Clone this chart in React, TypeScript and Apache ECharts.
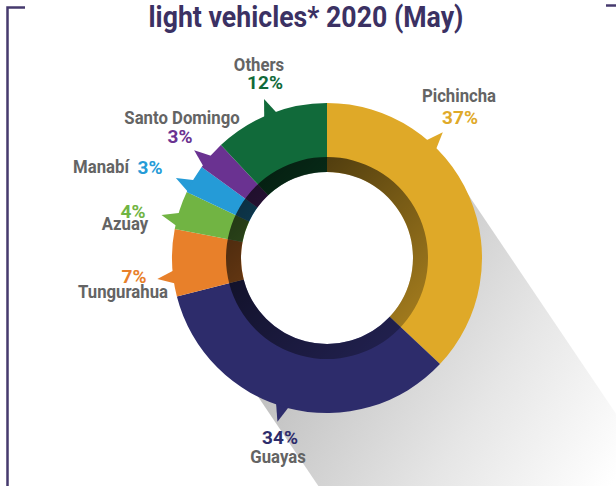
import React, { useEffect, useRef } from 'react';
import * as echarts from 'echarts';

// ---- data ----
const categories = ['Pichincha', 'Guayas', 'Tungurahua', 'Azuay', 'Manabí', 'Santo Domingo', 'Others'];
const shares = [37, 34, 7, 4, 3, 3, 12];
const sliceColors = ['#DFA928', '#2D2C6B', '#E8802A', '#71B443', '#259BD7', '#6A3291', '#116A3A'];
const titleText = 'light vehicles* 2020 (May)';

// ---- layout ----
const CX = 327;
const CY = 258;
const R_OUT = 155;
const R_MID = 101;
const R_IN = 86;
// where the bubble tail sits inside each slice (fraction of the slice span)
const tailFrac = [0.32, 0.52, 0.29, 0.26, 0.25, 0.28, 0.5];
// label anchors [nameX, nameY, pctX, pctY]
const labelPos = [
  [459, 96, 460, 117],
  [278, 457, 280, 437],
  [123, 292, 134, 276],
  [125, 224, 133, 211],
  [101, 167, 150, 167],
  [182, 118, 180, 136],
  [259, 65, 265, 82],
];

const NAME_COLOR = '#646464';
const FRAME_COLOR = '#463a6e';

function pt(angleDeg: number, r: number): number[] {
  const a = (angleDeg * Math.PI) / 180;
  return [CX + r * Math.sin(a), CY - r * Math.cos(a)];
}

export default function App() {
  const ref = useRef<HTMLDivElement>(null);

  useEffect(() => {
    if (!ref.current) return;
    const chart = echarts.init(ref.current, undefined, { renderer: 'svg' });
    const total = shares.reduce((a, b) => a + b, 0);

    const graphics: any[] = [];

    // long shadow
    const dir = [0.56, 0.83];
    const L = 420;
    const s1 = pt(64, R_OUT - 1);
    const s2 = pt(207, R_OUT - 1);
    graphics.push({
      type: 'polygon',
      z: 0,
      silent: true,
      shape: {
        points: [s1, s2, [s2[0] + dir[0] * L, s2[1] + dir[1] * L], [s1[0] + dir[0] * L, s1[1] + dir[1] * L]],
      },
      style: {
        fill: {
          type: 'linear',
          x: 330,
          y: 300,
          x2: 615,
          y2: 480,
          global: true,
          colorStops: [
            { offset: 0, color: '#c2c2c2' },
            { offset: 0.55, color: '#e6e6e6' },
            { offset: 1, color: '#ffffff' },
          ],
        },
      },
    });

    // bubble tails
    let cum = 0;
    const halfBase = (8 / R_OUT) * (180 / Math.PI);
    shares.forEach((v, i) => {
      const start = (cum / total) * 360;
      const span = (v / total) * 360;
      const theta = start + tailFrac[i] * span;
      cum += v;
      graphics.push({
        type: 'polygon',
        z: 1,
        silent: true,
        shape: { points: [pt(theta - halfBase, R_OUT - 4), pt(theta, R_OUT + 16), pt(theta + halfBase, R_OUT - 4)] },
        style: { fill: sliceColors[i] },
      });
    });

    // labels
    categories.forEach((name, i) => {
      const p = labelPos[i];
      graphics.push({
        type: 'text',
        z: 5,
        x: p[0],
        y: p[1],
        scaleX: 0.93,
        style: {
          text: name,
          fill: NAME_COLOR,
          font: 'bold 18px Roboto',
          align: 'center',
          verticalAlign: 'middle',
        },
      });
      graphics.push({
        type: 'text',
        z: 5,
        x: p[2],
        y: p[3],
        style: {
          text: shares[i] + '%',
          fill: sliceColors[i],
          font: 'bold 19px Roboto',
          align: 'center',
          verticalAlign: 'middle',
        },
      });
    });

    // title
    graphics.push({
      type: 'text',
      z: 5,
      x: 306,
      y: 17,
      scaleX: 0.92,
      style: {
        text: titleText,
        fill: '#3b3163',
        font: 'bold 29px Roboto',
        align: 'center',
        verticalAlign: 'middle',
      },
    });

    // frame
    graphics.push({
      type: 'polyline',
      z: 5,
      silent: true,
      shape: { points: [[25, 7.5], [7.5, 7.5], [7.5, 486]] },
      style: { stroke: FRAME_COLOR, lineWidth: 2.5, fill: 'none' },
    });
    graphics.push({
      type: 'line',
      z: 5,
      silent: true,
      shape: { x1: 606, y1: 5.5, x2: 616, y2: 5.5 },
      style: { stroke: FRAME_COLOR, lineWidth: 2.5 },
    });

    const baseSeries = {
      type: 'pie',
      center: [CX, CY],
      startAngle: 90,
      clockwise: true,
      silent: true,
      label: { show: false },
      labelLine: { show: false },
      emphasis: { disabled: true },
      itemStyle: { borderWidth: 0 },
    };

    chart.setOption({
      animation: false,
      backgroundColor: '#ffffff',
      graphic: { elements: graphics },
      series: [
        {
          ...baseSeries,
          name: 'hole',
          z: 2,
          radius: [0, R_IN],
          data: [{ value: 1, itemStyle: { color: '#ffffff' } }],
        },
        {
          ...baseSeries,
          name: 'share',
          z: 2,
          radius: [R_IN, R_OUT],
          data: categories.map((c, i) => ({ name: c, value: shares[i], itemStyle: { color: sliceColors[i] } })),
        },
        {
          ...baseSeries,
          name: 'inner shade',
          z: 3,
          radius: [R_IN, R_MID],
          data: [
            {
              value: 1,
              itemStyle: {
                color: {
                  type: 'linear',
                  x: 0,
                  y: 0,
                  x2: 1,
                  y2: 1,
                  colorStops: [
                    { offset: 0, color: 'rgba(0,0,0,0.78)' },
                    { offset: 1, color: 'rgba(0,0,0,0.2)' },
                  ],
                },
              },
            },
          ],
        },
      ],
    });

    return () => chart.dispose();
  }, []);

  return (
    <div
      ref={ref}
      style={{ position: 'absolute', left: 0, top: 0, width: 616, height: 486 }}
    />
  );
}
